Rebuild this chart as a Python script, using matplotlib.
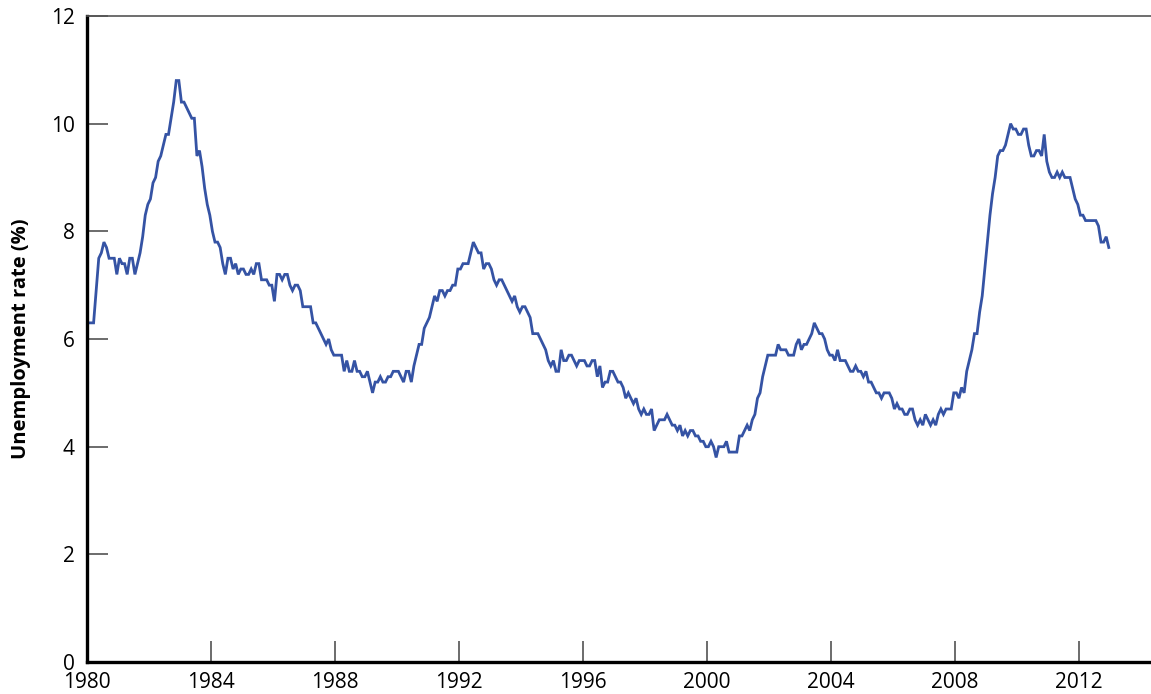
import numpy as np
import matplotlib.pyplot as plt

plt.rcParams['font.family'] = ['Open Sans', 'DejaVu Sans']

# monthly unemployment rate (%), Jan 1980 - Dec 2012
years = list(range(1980, 2013))
rate = {
    1980: [6.3, 6.3, 6.3, 6.9, 7.5, 7.6, 7.8, 7.7, 7.5, 7.5, 7.5, 7.2],
    1981: [7.5, 7.4, 7.4, 7.2, 7.5, 7.5, 7.2, 7.4, 7.6, 7.9, 8.3, 8.5],
    1982: [8.6, 8.9, 9.0, 9.3, 9.4, 9.6, 9.8, 9.8, 10.1, 10.4, 10.8, 10.8],
    1983: [10.4, 10.4, 10.3, 10.2, 10.1, 10.1, 9.4, 9.5, 9.2, 8.8, 8.5, 8.3],
    1984: [8.0, 7.8, 7.8, 7.7, 7.4, 7.2, 7.5, 7.5, 7.3, 7.4, 7.2, 7.3],
    1985: [7.3, 7.2, 7.2, 7.3, 7.2, 7.4, 7.4, 7.1, 7.1, 7.1, 7.0, 7.0],
    1986: [6.7, 7.2, 7.2, 7.1, 7.2, 7.2, 7.0, 6.9, 7.0, 7.0, 6.9, 6.6],
    1987: [6.6, 6.6, 6.6, 6.3, 6.3, 6.2, 6.1, 6.0, 5.9, 6.0, 5.8, 5.7],
    1988: [5.7, 5.7, 5.7, 5.4, 5.6, 5.4, 5.4, 5.6, 5.4, 5.4, 5.3, 5.3],
    1989: [5.4, 5.2, 5.0, 5.2, 5.2, 5.3, 5.2, 5.2, 5.3, 5.3, 5.4, 5.4],
    1990: [5.4, 5.3, 5.2, 5.4, 5.4, 5.2, 5.5, 5.7, 5.9, 5.9, 6.2, 6.3],
    1991: [6.4, 6.6, 6.8, 6.7, 6.9, 6.9, 6.8, 6.9, 6.9, 7.0, 7.0, 7.3],
    1992: [7.3, 7.4, 7.4, 7.4, 7.6, 7.8, 7.7, 7.6, 7.6, 7.3, 7.4, 7.4],
    1993: [7.3, 7.1, 7.0, 7.1, 7.1, 7.0, 6.9, 6.8, 6.7, 6.8, 6.6, 6.5],
    1994: [6.6, 6.6, 6.5, 6.4, 6.1, 6.1, 6.1, 6.0, 5.9, 5.8, 5.6, 5.5],
    1995: [5.6, 5.4, 5.4, 5.8, 5.6, 5.6, 5.7, 5.7, 5.6, 5.5, 5.6, 5.6],
    1996: [5.6, 5.5, 5.5, 5.6, 5.6, 5.3, 5.5, 5.1, 5.2, 5.2, 5.4, 5.4],
    1997: [5.3, 5.2, 5.2, 5.1, 4.9, 5.0, 4.9, 4.8, 4.9, 4.7, 4.6, 4.7],
    1998: [4.6, 4.6, 4.7, 4.3, 4.4, 4.5, 4.5, 4.5, 4.6, 4.5, 4.4, 4.4],
    1999: [4.3, 4.4, 4.2, 4.3, 4.2, 4.3, 4.3, 4.2, 4.2, 4.1, 4.1, 4.0],
    2000: [4.0, 4.1, 4.0, 3.8, 4.0, 4.0, 4.0, 4.1, 3.9, 3.9, 3.9, 3.9],
    2001: [4.2, 4.2, 4.3, 4.4, 4.3, 4.5, 4.6, 4.9, 5.0, 5.3, 5.5, 5.7],
    2002: [5.7, 5.7, 5.7, 5.9, 5.8, 5.8, 5.8, 5.7, 5.7, 5.7, 5.9, 6.0],
    2003: [5.8, 5.9, 5.9, 6.0, 6.1, 6.3, 6.2, 6.1, 6.1, 6.0, 5.8, 5.7],
    2004: [5.7, 5.6, 5.8, 5.6, 5.6, 5.6, 5.5, 5.4, 5.4, 5.5, 5.4, 5.4],
    2005: [5.3, 5.4, 5.2, 5.2, 5.1, 5.0, 5.0, 4.9, 5.0, 5.0, 5.0, 4.9],
    2006: [4.7, 4.8, 4.7, 4.7, 4.6, 4.6, 4.7, 4.7, 4.5, 4.4, 4.5, 4.4],
    2007: [4.6, 4.5, 4.4, 4.5, 4.4, 4.6, 4.7, 4.6, 4.7, 4.7, 4.7, 5.0],
    2008: [5.0, 4.9, 5.1, 5.0, 5.4, 5.6, 5.8, 6.1, 6.1, 6.5, 6.8, 7.3],
    2009: [7.8, 8.3, 8.7, 9.0, 9.4, 9.5, 9.5, 9.6, 9.8, 10.0, 9.9, 9.9],
    2010: [9.8, 9.8, 9.9, 9.9, 9.6, 9.4, 9.4, 9.5, 9.5, 9.4, 9.8, 9.3],
    2011: [9.1, 9.0, 9.0, 9.1, 9.0, 9.1, 9.0, 9.0, 9.0, 8.8, 8.6, 8.5],
    2012: [8.3, 8.3, 8.2, 8.2, 8.2, 8.2, 8.2, 8.1, 7.8, 7.8, 7.9, 7.7],
}

x_ticks = [1980, 1984, 1988, 1992, 1996, 2000, 2004, 2008, 2012]
y_ticks = [0, 2, 4, 6, 8, 10, 12]

values = np.concatenate([rate[y] for y in years])
t = np.array([y + (m + 0.5) / 12 for y in years for m in range(12)])

fig = plt.figure(figsize=(11.51, 6.94), dpi=100)
ax = fig.add_axes([0.0757, 0.046, 0.9243, 0.931])

ax.plot(t, values, color='#3553a4', lw=2.0, solid_joinstyle='miter')

ax.set_xlim(1980, 2014.32)
ax.set_ylim(0, 12)
ax.set_xticks(x_ticks)
ax.set_yticks(y_ticks)

for s in ['left', 'bottom']:
    ax.spines[s].set_linewidth(2.4)
    ax.spines[s].set_color('black')
ax.spines['top'].set_linewidth(1.2)
ax.spines['top'].set_color('#555555')
ax.spines['right'].set_visible(False)

ax.tick_params(axis='both', direction='in', length=15, width=1.1, color='#444444',
               labelsize=15)
ax.tick_params(axis='y', pad=9)
ax.tick_params(axis='x', pad=7)

ax.set_ylabel('Unemployment rate (%)', fontsize=14.5, fontweight='bold', labelpad=14)

fig.savefig('out.png', dpi=100)
